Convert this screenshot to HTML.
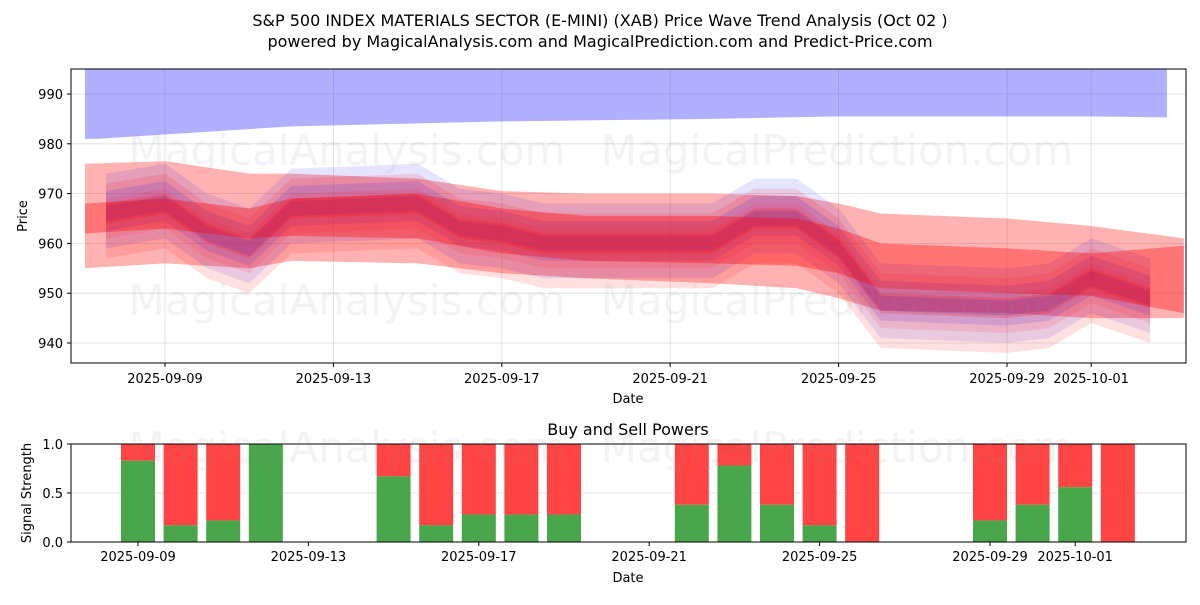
<!DOCTYPE html>
<html><head><meta charset="utf-8"><style>
body{margin:0;background:#fff;font-family:"Liberation Sans","DejaVu Sans",sans-serif}
svg text{font-family:"DejaVu Sans","Liberation Sans",sans-serif}
</style></head><body>
<svg id="c" width="1200" height="600" xmlns="http://www.w3.org/2000/svg">
<rect width="1200" height="600" fill="#fff"/>
<defs><clipPath id="cp"><rect x="71" y="69" width="1115" height="294"/></clipPath></defs>
<text x="600" y="26" text-anchor="middle" font-size="16">S&amp;P 500 INDEX MATERIALS SECTOR (E-MINI) (XAB) Price Wave Trend Analysis (Oct 02 )</text>
<text x="600" y="47" text-anchor="middle" font-size="16">powered by MagicalAnalysis.com and MagicalPrediction.com and Predict-Price.com</text>
<g id="topPanel"></g><g id="botPanel"></g>
</svg>
<script>
// ---- data ----
const tickDates=["2025-09-09","2025-09-13","2025-09-17","2025-09-21","2025-09-25","2025-09-29","2025-10-01"];
const tickDays=[0,4,8,12,16,20,22];
const priceTicks=[940,950,960,970,980,990];
const bandDays=[-1.9,0,2,3,6,8,10,13,15,16,17,20,22,24.2];
const outerUpper=[976,976.5,974,974,973,970.5,970,970,969.5,968,966,965,963.5,961];
const outerLower=[955,956,955,956.5,956,954,953,952,951,949,946.5,946,945,945];
const innerUpper=[968,969,967,969,970,967,965.5,965.5,965,963,960,959,958,959.5];
const innerLower=[962,963,961,961.5,961,958,956.5,956,955.5,954,951,950,949.5,946];
const topBandDays=[-1.9,-1.6,3,8,13,16,22,23.8];
const topUpper=[1000,1000,1000,1000,1000,1000,1000,1000];
const topLower=[981,981,983.5,984.5,985,985.5,985.5,985.3];
const waveDays=[-1.4,0,1,2,3,6,7,8,9,10,13,14,15,16,17,20,21,22,23.4];
const waveCenter=[966,968,962,959,967,968,963,962,960,960,960,965,965,959,948,947,948,953,949];
const sigDates=[0,1,2,3,6,7,8,9,10,13,14,15,16,17,20,21,22,23];
const buyPower=[0.83,0.17,0.22,1.0,0.67,0.17,0.28,0.28,0.28,0.38,0.78,0.38,0.17,0,0.22,0.38,0.56,0];
const sigTicks=[0,0.5,1.0];
// ---- axes ----
const NS="http://www.w3.org/2000/svg";
const L=71,R=1186,T=69,B=363,BT=444,BB=542;
const xT=d=>165+42.1*d, yP=p=>94+(990-p)*4.98;
const xB=d=>138+42.6*d, yS=v=>BB-(BB-BT)*v;
function mk(par,tag,at,txt){const e=document.createElementNS(NS,tag);for(const k in at)e.setAttribute(k,at[k]);if(txt!==undefined)e.textContent=txt;par.appendChild(e);return e;}
const topG=document.getElementById('topPanel'),botG=document.getElementById('botPanel');
const svgRoot=document.getElementById('c');
tickDays.forEach((d,i)=>{const gl=mk(topG,'line',{x1:xT(d),x2:xT(d),y1:T,y2:B,stroke:'#ddd','stroke-width':0.8});

const t=mk(topG,'text',{x:xT(d),y:B+20,'text-anchor':'middle','font-size':13},tickDates[i]);

mk(topG,'line',{x1:xT(d),x2:xT(d),y1:B,y2:B+4,stroke:'#000'});
const t2=mk(botG,'text',{x:xB(d),y:BB+19,'text-anchor':'middle','font-size':13},tickDates[i]);

mk(botG,'line',{x1:xB(d),x2:xB(d),y1:BB,y2:BB+4,stroke:'#000'});});
priceTicks.forEach(p=>{mk(topG,'line',{x1:L,x2:R,y1:yP(p),y2:yP(p),stroke:'#ddd','stroke-width':0.8});
const t=mk(topG,'text',{x:L-8,y:yP(p)+5,'text-anchor':'end','font-size':13},p);

mk(topG,'line',{x1:L-4,x2:L,y1:yP(p),y2:yP(p),stroke:'#000'});});
const g=mk(topG,'g',{'clip-path':'url(#cp)'});
function band(days,up,lo,fill,op,name){let pts=days.map((d,i)=>xT(d)+','+yP(up[i]));
for(let i=days.length-1;i>=0;i--)pts.push(xT(days[i])+','+yP(lo[i]));
const e=mk(g,'polygon',{points:pts.join(' '),fill:fill,'fill-opacity':op});
}
band(topBandDays,topUpper,topLower,'#0000ff',0.31,'upper-blue-band');
band(bandDays,outerUpper,outerLower,'#ff0000',0.3,'outer-red-band');
const offs=[[8,-7,'#0000ff',0.1],[6,-9,'#ff0000',0.12],[4.5,-3.5,'#0000ff',0.12],[2,-2,'#ff0000',0.2],[1.5,-1.5,'#5030c0',0.25],[3,-5,'#ff3040',0.15]];
offs.forEach((o,k)=>band(waveDays,waveCenter.map(v=>v+o[0]),waveCenter.map(v=>v+o[1]),o[2],o[3],'wave-band-'+k));
band(bandDays,innerUpper,innerLower,'#ff0000',0.35,'inner-red-band');
mk(topG,'rect',{x:L,y:T,width:R-L,height:B-T,fill:'none',stroke:'#000','stroke-width':1});
const wm=[[347,150,'MagicalAnalysis.com'],[837,150,'MagicalPrediction.com'],[347,300,'MagicalAnalysis.com'],[837,300,'MagicalPrediction.com'],[347,447,'MagicalAnalysis.com'],[837,447,'MagicalPrediction.com']];
wm.forEach(w=>{const t=mk(svgRoot,'text',{x:w[0],y:w[1]+15,'text-anchor':'middle','font-size':42,fill:'#888','fill-opacity':0.1},w[2]);
});
let t=mk(topG,'text',{x:628,y:403,'text-anchor':'middle','font-size':13},'Date');
t=mk(topG,'text',{x:27,y:216,'text-anchor':'middle','font-size':13,transform:'rotate(-90 27 216)'},'Price');
// bottom
t=mk(botG,'text',{x:628,y:435,'text-anchor':'middle','font-size':16},'Buy and Sell Powers');
sigTicks.forEach(v=>{mk(botG,'line',{x1:L,x2:R,y1:yS(v),y2:yS(v),stroke:'#ddd','stroke-width':0.8});
const tt=mk(botG,'text',{x:L-8,y:yS(v)+5,'text-anchor':'end','font-size':13},v.toFixed(1));

mk(botG,'line',{x1:L-4,x2:L,y1:yS(v),y2:yS(v),stroke:'#000'});});
sigDates.forEach((d,i)=>{const bw=34,x=xB(d)-bw/2,b=buyPower[i];
const r=mk(botG,'rect',{x:x,y:yS(1),width:bw,height:yS(b)-yS(1),fill:'#ff4444'});

const gr=mk(botG,'rect',{x:x,y:yS(b),width:bw,height:yS(0)-yS(b),fill:'#4aa64a'});
});
mk(botG,'rect',{x:L,y:BT,width:R-L,height:BB-BT,fill:'none',stroke:'#000','stroke-width':1});
t=mk(botG,'text',{x:628,y:582,'text-anchor':'middle','font-size':13},'Date');
t=mk(botG,'text',{x:31,y:493,'text-anchor':'middle','font-size':13,transform:'rotate(-90 31 493)'},'Signal Strength');
</script>
</body></html>
